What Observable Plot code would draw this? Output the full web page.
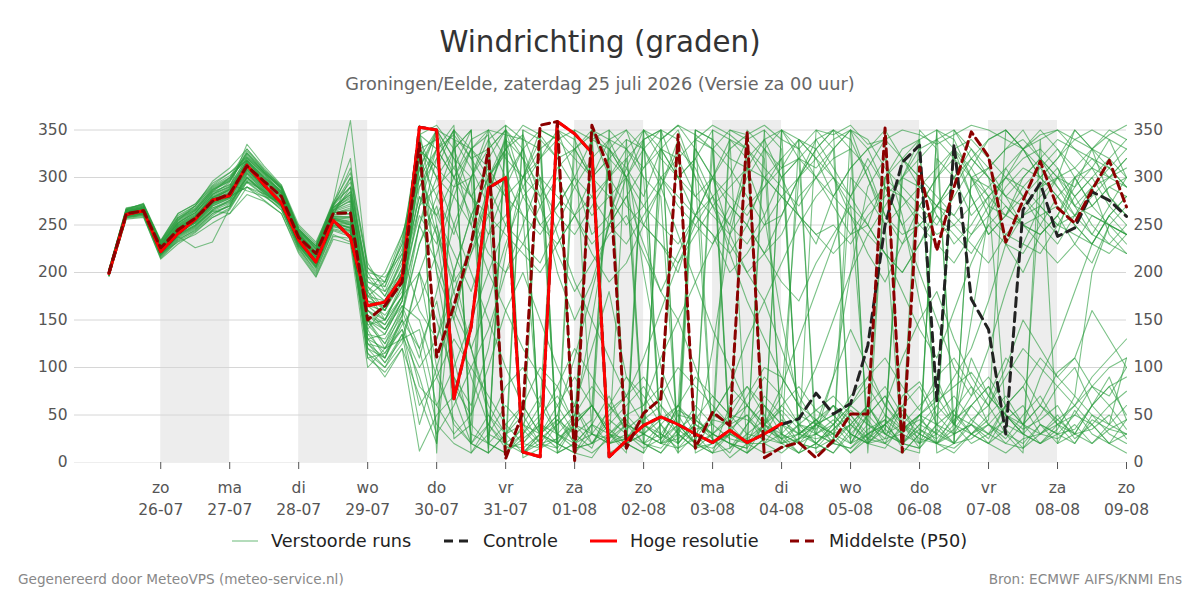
<!DOCTYPE html>
<html>
<head>
<meta charset="utf-8">
<script src="https://cdn.jsdelivr.net/npm/d3@7"></script>
<script src="https://cdn.jsdelivr.net/npm/@observablehq/plot@0.6"></script>
<style>
  html, body { margin: 0; padding: 0; background: #fff; }
  body { font-family: "DejaVu Sans", sans-serif; }
  #wrap { position: relative; width: 1200px; height: 600px; overflow: hidden; background: #fff; }
  #title { position: absolute; top: 27px; left: 0; width: 1200px; text-align: center; font-size: 29.3px; line-height: 30px; color: #333; }
  #subtitle { position: absolute; top: 74px; left: 0; width: 1200px; text-align: center; font-size: 17.7px; line-height: 20px; color: #666; }
  #chart { position: absolute; top: 100px; left: 0; }
  .leg { position: absolute; top: 531px; height: 20px; font-size: 17.7px; line-height: 20px; color: #222; white-space: nowrap; }
  .leg svg { position: absolute; top: 0; left: 0; }
  .leg span { position: absolute; top: 0; }
  #footL { position: absolute; left: 18px; top: 571px; font-size: 13.6px; color: #888; }
  #footR { position: absolute; right: 18px; top: 571px; font-size: 13.6px; color: #888; }
</style>
</head>
<body>
<div id="wrap">
  <div id="title">Windrichting (graden)</div>
  <div id="subtitle">Groningen/Eelde, zaterdag 25 juli 2026 (Versie za 00 uur)</div>
  <div id="chart"></div>
  <div class="leg" style="left:232px;width:200px"><svg width="30" height="20"><line x1="0" x2="26" y1="10" y2="10" stroke="#2e9e42" stroke-opacity="0.6" stroke-width="1.2"/></svg><span style="left:39px">Verstoorde runs</span></div>
  <div class="leg" style="left:444px;width:140px"><svg width="30" height="20"><line x1="0" x2="26" y1="10" y2="10" stroke="#222" stroke-width="3" stroke-dasharray="9,6"/></svg><span style="left:39px">Controle</span></div>
  <div class="leg" style="left:590px;width:180px"><svg width="30" height="20"><line x1="0" x2="27" y1="10" y2="10" stroke="#ff0000" stroke-width="3"/></svg><span style="left:40px">Hoge resolutie</span></div>
  <div class="leg" style="left:790px;width:200px"><svg width="30" height="20"><line x1="0" x2="27" y1="10" y2="10" stroke="#8b0000" stroke-width="3" stroke-dasharray="9,6"/></svg><span style="left:39px">Middelste (P50)</span></div>
  <div id="footL">Gegenereerd door MeteoVPS (meteo-service.nl)</div>
  <div id="footR">Bron: ECMWF AIFS/KNMI Ens</div>
</div>
<script>
// ---- Data ----
// 6-hourly steps, first step 25-07 06:00, last 09-08 00:00 (60 steps)
const firstStep = "2026-07-25T06:00:00Z";
const stepHours = 6;
const nSteps = 60;

const dayTicks = ["2026-07-26","2026-07-27","2026-07-28","2026-07-29","2026-07-30","2026-07-31",
  "2026-08-01","2026-08-02","2026-08-03","2026-08-04","2026-08-05","2026-08-06","2026-08-07",
  "2026-08-08","2026-08-09"];
const weekdayNames = ["zo","ma","di","wo","do","vr","za"];
const shadedDays = ["2026-07-26","2026-07-28","2026-07-30","2026-08-01","2026-08-03","2026-08-05","2026-08-07"];
const yTicks = [0,50,100,150,200,250,300,350];

// Hoge resolutie (until 04-08 00:00, 40 steps)
const hres = [199,261,265,222,241,256,276,281,313,292,273,234,211,255,237,165,169,195,353,350,
  67,143,289,300,11,6,359,346,326,6,23,39,48,40,30,21,34,21,30,41];

// Controle (coincides with Hoge resolutie in the first part)
const control = [199,261,265,222,241,256,276,281,313,292,273,234,211,255,237,165,169,195,353,350,
  67,143,289,300,11,6,359,346,326,6,23,39,48,40,30,21,34,21,30,40,
  46,73,51,62,123,250,316,334,65,335,172,140,30,266,294,238,247,285,276,259];

// Middelste (P50)
const p50 = [200,262,265,226,245,257,275,283,312,296,280,237,220,262,263,150,165,190,336,111,
  165,230,330,4,53,355,359,2,355,308,15,52,67,345,15,53,39,348,5,16,
  21,5,23,51,51,352,11,311,223,290,348,322,232,276,317,268,252,287,318,269];

// Verstoorde runs (ensemble members)
const ensembleRuns = [
  [201,264,266,226,248,258,279,286,316,298,281,238,218,262,268, 150,140,170, 310,345,25,40,300,325, 15,350,340,10,30,330, 300,40,25,60,340,330, 20,15,350,330,30,45, 20,300,280,250,10,30, 320,300,260,280,50,30, 290,310,270,260,250,240],
  [199,260,263,220,240,250,268,276,305,288,272,230,210,255,250, 120,110,150, 330,300,280,250,320,350, 290,250,270,300,240,260, 310,280,330,350,300,270, 250,320,340,300,260,230, 280,310,330,290,250,270, 300,320,280,240,260,290, 310,330,300,270,290,280],
  [203,266,270,230,252,265,285,292,320,302,285,242,222,266,280, 175,160,200, 280,260,300,330,345,10, 25,40,20,10,5,30, 45,20,15,35,50,25, 10,40,60,30,20,15, 35,50,25,40,60,20, 30,55,80,40,25,50, 70,40,30,60,90,45],
  [197,258,260,218,236,246,262,270,300,285,270,228,205,250,245, 115,100,135, 90,30,60,100,140,200, 250,300,20,40,60,30, 15,340,350,20,45,70, 50,30,25,20,40,35, 60,45,20,25,70,85, 50,30,40,20,35,15, 30,50,25,40,60,35],
  [200,263,267,225,246,258,282,295,325,305,288,245,225,270,300, 190,180,220, 350,20,200,260,300,330, 355,345,320,290,260,280, 300,250,230,200,260,300, 340,10,25,350,330,300, 270,240,250,300,320,340, 10,20,300,280,260,250, 240,260,300,320,310,290],
  [202,261,264,222,243,255,272,280,308,290,276,233,212,256,252, 160,150,185, 320,280,240,300,350,5, 350,10,345,15,20,40, 60,80,50,30,350,340, 30,20,10,15,25,30, 40,20,30,45,15,10, 350,340,300,270,260,280, 300,320,350,330,280,260],
  [198,262,266,228,255,270,290,300,330,310,290,248,230,275,360, 200,175,210, 340,200,150,230,290,330, 300,320,340,350,30,20, 40,30,50,340,300,20, 30,25,40,60,40,30, 20,15,30,20,60,80, 40,20,300,310,330,350, 320,300,290,310,340,330],
  [200,259,262,219,238,248,265,262,290,280,268,226,200,245,240, 110,95,120, 12,50,70,20,40,80, 100,60,350,340,300,320, 20,30,45,60,40,25, 5,20,40,70,300,330, 350,20,50,30,40,20, 60,40,110,70,50,30, 20,40,60,80,100,110],
  [204,267,272,232,258,268,288,298,322,304,283,240,220,265,285, 170,165,190, 260,230,290,330,310,280, 300,330,345,10,40,20, 340,330,350,300,320,280, 250,230,260,300,320,340, 350,330,310,260,240,250, 270,290,320,300,230,220, 250,280,300,270,250,230],
  [199,262,264,224,244,254,274,284,314,296,280,236,214,258,256, 145,125,165, 150,90,45,20,10,355, 340,20,25,350,340,330, 310,350,20,30,15,45, 40,50,30,20,25,40, 30,10,25,50,35,45, 30,20,25,40,20,15, 40,30,20,45,35,30],
  [201,265,268,227,250,260,276,288,318,300,284,241,219,263,265, 165,160,195, 300,350,320,250,200,160, 120,90,60,30,45,350, 330,300,20,25,40,330, 310,280,250,260,300,320, 340,350,10,300,280,260, 240,250,270,290,310,330, 340,350,330,320,300,310],
  [196,257,259,214,230,242,258,266,296,282,266,224,198,240,232, 125,120,140, 100,130,180,230,280,340, 10,25,40,60,20,30, 20,10,350,340,15,30, 50,80,60,40,30,20, 10,30,50,70,40,60, 80,50,40,70,110,90, 60,40,50,80,70,100],
  [202,263,266,223,247,257,278,281,310,292,279,237,216,259,258, 180,150,175, 250,300,330,350,15,340, 280,250,230,260,300,320, 340,20,40,10,330,300, 270,250,220,240,280,300, 320,330,20,40,300,290, 270,250,230,210,240,260, 280,300,270,240,230,250],
  [200,264,269,229,252,263,283,290,335,312,292,250,232,272,320, 130,105,130, 140,60,30,50,340,300, 260,30,20,45,60,30, 25,40,300,280,260,240, 220,250,300,320,30,40, 60,40,25,20,35,50, 40,30,60,80,50,30, 20,35,70,200,250,240],
  [198,261,263,221,242,252,270,278,306,289,274,232,208,252,248, 155,140,175, 330,310,290,300,20,40, 60,30,20,10,350,330, 300,20,10,30,60,40, 350,340,320,30,20,40, 50,30,20,60,40,25, 20,50,30,40,60,80, 40,20,30,60,80,50],
  [203,268,271,233,260,270,291,302,318,300,286,243,224,268,278, 195,190,230, 345,330,300,340,350,320, 300,280,310,330,350,20, 30,350,320,300,280,300, 330,345,20,30,50,40, 30,20,40,300,330,340, 350,330,310,280,300,320, 330,310,280,300,320,340],
  [197,259,261,217,235,244,260,272,302,287,272,229,206,248,244, 135,115,150, 80,60,100,150,200,250, 300,350,10,20,40,30, 50,30,20,15,35,40, 25,20,330,300,320,30, 20,15,35,45,30,350, 330,40,30,20,50,35, 45,60,30,20,40,30],
  [201,262,265,225,246,256,276,283,312,295,280,236,216,260,262, 170,155,180, 290,320,350,330,300,280, 260,240,270,300,340,350, 20,30,330,320,280,260, 240,270,290,310,320,300, 280,310,330,350,320,300, 280,260,240,260,290,310, 300,280,260,270,290,300],
  [199,266,270,230,256,266,286,296,328,308,290,246,228,272,295, 185,170,205, 350,250,180,120,60,30, 10,20,45,30,15,60, 90,70,40,20,350,340, 320,310,340,350,20,30, 45,25,60,30,20,40, 60,90,120,170,230,260, 270,250,240,230,260,280],
  [200,260,262,218,238,226,232,268,298,284,270,227,204,246,242, 120,100,125, 200,150,90,40,20,10, 30,50,70,40,20,45, 30,15,25,40,20,10, 15,30,45,25,10,20, 35,55,40,25,30,50, 20,10,30,45,350,330, 300,280,250,230,220,240],
  [202,263,267,226,249,259,280,288,316,299,283,239,219,264,270, 160,145,175, 270,330,355,20,300,330, 345,300,280,260,230,250, 280,310,330,300,260,240, 200,220,250,280,300,330, 350,340,300,250,270,290, 310,330,340,320,300,280, 260,270,250,230,260,280],
  [198,261,264,223,244,255,273,280,290,276,262,222,196,238,236, 130,120,160, 110,180,250,300,340,355, 20,40,30,50,80,60, 40,20,30,55,45,30, 20,10,40,55,35,20, 40,60,45,20,10,30, 50,70,45,30,20,40, 60,45,30,35,50,25],
  [201,264,268,228,251,261,282,291,321,303,286,242,221,266,275, 175,170,215, 310,240,190,220,280,345, 5,15,340,320,300,340, 350,330,300,270,250,230, 260,300,330,350,340,320, 300,270,40,30,320,300, 260,230,250,280,300,330, 350,330,310,290,300,320],
  [199,258,260,216,234,245,262,270,304,286,272,230,210,253,250, 140,110,145, 170,220,280,330,30,60, 40,30,15,330,300,20, 25,50,30,20,40,350, 340,320,40,20,30,45, 60,30,20,35,300,340, 20,30,40,25,60,40, 30,40,20,50,30,20],
  [200,262,266,224,245,257,277,285,313,296,281,238,217,261,290, 150,135,170, 320,350,300,280,310,15, 30,60,30,20,350,300, 320,340,350,10,30,50, 40,20,20,45,30,25, 30,40,60,35,20,15, 40,330,300,290,270,250, 260,240,300,310,280,260],
  [203,265,269,231,255,266,287,297,326,306,288,244,226,270,310, 205,185,235, 330,340,310,350,10,30, 40,20,350,300,280,250, 230,260,290,340,10,20, 340,330,300,280,260,240, 250,230,260,280,300,320, 340,350,320,300,280,270, 290,300,350,330,310,290],
  [197,260,262,219,239,249,266,276,300,283,269,228,207,251,247, 125,105,135, 40,100,160,220,260,300, 330,350,340,20,30,25, 50,60,80,40,20,30, 45,60,35,25,40,55, 70,50,30,40,20,35, 25,45,60,80,40,30, 50,80,100,60,40,110],
  [201,263,267,227,248,258,279,287,315,297,282,239,218,263,266, 165,150,190, 300,330,345,320,290,250, 230,210,250,290,320,340, 300,270,250,230,260,280, 300,340,350,20,340,320, 280,260,240,270,300,330, 340,320,300,260,240,230, 220,250,280,300,270,250],
  [198,261,265,222,243,253,271,279,309,291,277,234,213,257,254, 150,125,155, 230,270,200,120,50,20, 10,30,50,20,40,70, 30,20,10,35,20,15, 30,20,60,40,20,15, 25,40,20,15,40,30, 20,35,60,40,30,20, 40,30,35,60,80,90],
  [202,264,268,229,253,263,284,293,286,280,275,240,222,268,282, 180,160,200, 270,350,340,310,270,20, 35,15,25,40,60,330, 350,300,280,20,40,30, 20,10,25,350,320,310, 330,350,300,260,230,250, 270,300,320,340,350,330, 300,320,340,350,340,300],
  [200,266,273,234,262,272,292,305,318,296,284,240,215,260,300, 205,190,240, 300,260,220,180,240,290, 330,280,200,150,190,250, 280,230,180,220,260,300, 240,200,170,210,250,280, 300,260,220,190,230,270, 300,330,280,240,260,300, 320,290,260,240,270,300],
  [198,262,265,220,232,240,252,262,282,275,262,220,195,235,230, 100,120,150, 120,170,80,50,100,160, 200,150,100,60,120,180, 90,60,110,150,100,50, 80,130,170,120,70,40, 90,140,100,60,110,150, 180,130,90,60,100,150, 120,90,110,160,130,100],
  [201,263,266,225,250,262,285,300,320,304,288,244,228,272,290, 195,175,215, 355,10,340,330,350,345, 340,330,10,20,350,340, 330,350,340,355,345,330, 350,345,355,340,330,350, 345,355,335,340,350,345, 335,345,355,350,340,330, 345,350,340,330,345,355],
  [199,260,262,222,242,252,268,274,296,286,270,230,212,254,246, 130,135,170, 250,210,160,120,170,230, 280,300,240,190,150,110, 70,110,160,210,250,280, 220,170,130,90,60,100, 150,200,240,220,180,140, 110,160,210,250,230,200, 240,260,230,210,250,270],
  [203,265,270,232,258,270,296,310,330,308,292,246,228,274,305, 210,180,200, 330,310,350,20,50,30, 60,100,80,40,30,55, 70,40,25,60,90,70, 50,45,30,60,80,55, 40,70,90,60,35,50, 65,80,95,70,50,40, 60,95,110,80,60,75],
  [200,262,264,223,244,254,273,282,310,292,278,235,214,257,253, 145,150,185, 270,290,310,280,260,240, 220,200,230,260,280,300, 270,250,230,210,240,270, 290,310,300,280,260,240, 220,240,270,290,280,250, 230,210,240,270,300,290, 270,250,260,280,300,290],
  [197,259,262,219,240,250,266,275,304,288,272,231,207,250,244, 115,90,120, 70,20,350,320,330,350, 10,30,60,90,60,30, 10,350,330,300,320,350, 15,40,70,50,20,350, 330,20,50,70,40,15, 350,20,45,60,30,10, 340,20,55,30,20,45],
  [202,264,268,228,252,263,281,290,318,301,285,241,220,265,272, 170,165,205, 340,300,250,200,150,100, 60,30,50,110,180,250, 300,330,290,240,190,140, 100,60,40,80,130,180, 230,280,320,290,250,200, 150,100,70,120,180,230, 270,300,280,250,230,220],
  [199,261,264,221,243,253,272,279,308,290,275,233,211,256,251, 160,140,165, 120,40,20,10,30,20, 350,340,320,330,345,10, 20,40,30,15,25,50, 80,60,40,30,10,20, 40,60,80,50,30,20, 40,55,30,20,10,25, 30,45,60,40,20,30],
  [200,263,267,226,247,259,278,287,313,296,281,238,217,261,262, 180,200,240, 290,330,300,260,220,200, 230,270,300,260,220,190, 210,250,290,330,310,270, 230,200,220,260,300,340, 310,280,250,220,200,230, 270,300,330,310,280,250, 240,260,290,330,320,300],
  [196,256,258,215,233,243,258,268,295,281,266,225,202,244,238, 110,115,140, 60,90,130,100,70,40, 20,45,80,120,90,60, 35,50,70,100,80,60, 40,70,100,90,60,45, 30,60,90,110,80,55, 90,110,80,60,90,120, 100,80,60,90,110,130],
  [202,266,271,233,262,272,294,305,322,306,290,246,227,270,290, 190,185,225, 310,350,320,300,330,350, 320,290,260,240,270,300, 330,310,340,355,330,300, 280,260,290,320,340,330, 300,280,310,340,320,290, 270,260,290,310,330,340, 320,300,310,330,350,340],
  [198,261,265,222,241,252,270,278,307,290,275,233,211,256,250, 150,120,130, 200,100,40,20,10,30, 50,20,10,40,60,35, 20,10,40,60,30,10, 60,80,50,20,10,40, 20,40,60,30,20,50, 70,40,20,30,60,40, 20,30,50,40,20,10],
  [201,264,267,227,249,260,279,289,317,299,283,240,220,265,276, 175,190,230, 320,200,90,60,120,220, 300,340,20,50,150,260, 320,200,100,50,20,120, 240,310,260,150,60,30, 90,200,290,320,260,170, 90,40,150,260,310,280, 250,230,260,290,240,220],
  [199,260,263,220,239,249,265,273,300,284,270,229,206,249,243, 125,110,155, 250,320,350,10,40,20, 15,30,45,20,10,25, 40,30,20,50,45,30, 20,15,40,25,30,45, 25,10,30,40,20,15, 35,20,40,30,45,60, 30,25,40,20,35,45],
  [203,267,272,231,257,267,289,299,326,307,289,245,225,269,282, 185,160,190, 345,355,330,280,240,260, 290,320,350,330,300,280, 250,270,300,320,340,355, 345,330,310,290,270,300, 330,350,340,310,290,270, 250,280,310,340,350,330, 310,290,270,290,310,330],
  [200,262,265,224,245,256,276,284,312,295,280,237,217,259,259, 155,145,175, 200,250,150,90,40,15, 20,15,40,60,30,20, 25,45,60,30,15,20, 35,50,20,10,25,40, 50,30,20,40,55,35, 20,15,30,50,70,40, 90,130,180,230,260,240],
  [198,262,266,225,246,255,274,280,290,283,272,232,213,257,258, 135,130,160, 230,280,330,350,20,350, 330,20,15,40,350,320, 300,340,20,40,350,20, 30,350,330,310,340,10, 20,350,330,340,20,40, 30,350,330,300,280,300, 320,340,330,310,300,320],
  [201,265,269,229,254,265,287,296,324,305,289,243,224,268,285, 200,195,220, 160,130,200,260,300,340, 320,270,220,180,210,240, 260,220,180,150,190,230, 270,250,220,190,170,210, 240,270,250,220,200,230, 260,240,220,250,270,250, 230,210,230,260,250,240],
  [197,258,261,218,237,247,264,270,300,286,271,230,209,252,247, 140,165,200, 280,240,110,30,20,10, 40,70,30,15,20,50, 70,90,60,40,20,10, 30,60,90,70,40,20, 10,35,60,80,50,30, 20,40,70,90,60,80, 110,90,70,50,40,60]
];

// ---- Build tables ----
const t0 = new Date(firstStep).getTime();
const stepTimes = d3.range(nSteps).map(i => new Date(t0 + i * stepHours * 3600e3));
const ensRows = ensembleRuns.flatMap((run, m) => run.map((v, i) => ({m, t: stepTimes[i], v})));
const toRows = arr => arr.map((v, i) => ({t: stepTimes[i], v}));
const hresRows = toRows(hres), ctrlRows = toRows(control), p50Rows = toRows(p50);
const tickDates = dayTicks.map(d => new Date(d + "T00:00:00Z"));
const bands = shadedDays.map(d => { const s = new Date(d + "T00:00:00Z"); return {s, e: new Date(s.getTime() + 864e5)}; });
const fmtDM = d3.utcFormat("%d-%m");

const chart = Plot.plot({
  width: 1200,
  height: 430,
  marginLeft: 74,
  marginRight: 74,
  marginTop: 20,
  marginBottom: 68,
  style: {fontFamily: "DejaVu Sans, sans-serif", fontSize: "15.5px", color: "#555", background: "#fff"},
  x: {type: "utc", domain: [new Date("2026-07-24T18:00:00Z"), new Date("2026-08-09T00:00:00Z")]},
  y: {domain: [0, 360]},
  marks: [
    Plot.rect(bands, {x1: "s", x2: "e", y1: 0, y2: 360, fill: "#ededed"}),
    Plot.ruleY(yTicks.filter(d => d > 0), {stroke: "#d6d6d6", strokeWidth: 1}),
    Plot.ruleY([0], {stroke: "#eeeeee", strokeWidth: 1}),
    Plot.line(ensRows, {x: "t", y: "v", z: "m", stroke: "#2a9c3e", strokeWidth: 1.1, strokeOpacity: 0.62}),
    Plot.line(ctrlRows, {x: "t", y: "v", stroke: "#222", strokeWidth: 3, strokeDasharray: "9,6"}),
    Plot.line(hresRows, {x: "t", y: "v", stroke: "#ff0000", strokeWidth: 3}),
    Plot.line(p50Rows, {x: "t", y: "v", stroke: "#8b0000", strokeWidth: 3, strokeDasharray: "8,5"}),
    Plot.axisY({anchor: "left", ticks: yTicks, tickSize: 0, tickPadding: 7, label: null, fontSize: 15.5}),
    Plot.axisY({anchor: "right", ticks: yTicks, tickSize: 0, tickPadding: 7, label: null, fontSize: 15.5}),
    Plot.axisX({ticks: tickDates, tickSize: 7, tickPadding: 8, label: null, fontSize: 15.5, lineHeight: 1.42,
      tickFormat: d => weekdayNames[d.getUTCDay()] + "\n" + fmtDM(d)})
  ]
});
document.getElementById("chart").appendChild(chart);
</script>
</body>
</html>
